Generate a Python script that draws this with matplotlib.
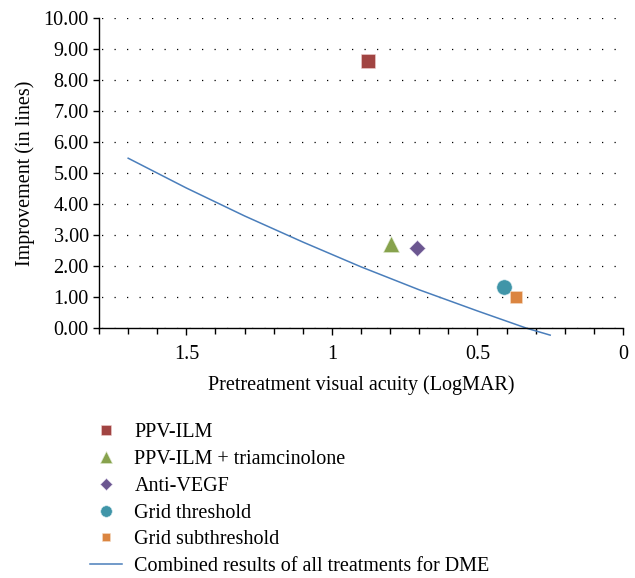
import matplotlib
matplotlib.use('Agg')
import matplotlib.pyplot as plt
from matplotlib.ticker import MultipleLocator, FuncFormatter

plt.rcParams['font.family'] = ['Liberation Serif', 'DejaVu Serif']

# Treatment results (LogMAR, improvement in lines)
ppv_x, ppv_y = [0.877], [8.62]
tri_x, tri_y = [0.796], [2.72]
vegf_x, vegf_y = [0.707], [2.60]
grid_x, grid_y = [0.41], [1.34]
sub_x, sub_y = [0.369], [1.01]

# Combined fit
fit_x = [1.70, 1.50, 1.30, 1.10, 0.90, 0.70, 0.50, 0.33, 0.25]
fit_y = [5.48, 4.52, 3.62, 2.78, 1.98, 1.24, 0.56, 0.00, -0.22]

labels = ['PPV-ILM', 'PPV-ILM + triamcinolone', 'Anti-VEGF',
          'Grid threshold', 'Grid subthreshold',
          'Combined results of all treatments for DME']

FS = 14.5

fig = plt.figure(figsize=(6.35, 5.78), dpi=100)
ax = fig.add_axes([0.156, 0.432, 0.825, 0.537])

ax.plot(ppv_x, ppv_y, marker='s', ms=10.5, color='#A14442', ls='None',
        mec='#f0d0d0', mew=0.4, label=labels[0])
ax.plot(tri_x, tri_y, marker='^', ms=12, color='#87A24D', ls='None',
        mec='#e0ecd0', mew=0.4, label=labels[1])
ax.plot(vegf_x, vegf_y, marker='D', ms=8, color='#6B5690', ls='None',
        mec='#e0d8ec', mew=0.4, label=labels[2])
ax.plot(grid_x, grid_y, marker='o', ms=11, color='#4095A8', ls='None',
        mec='#d0e8ee', mew=0.4, label=labels[3])
ax.plot(sub_x, sub_y, marker='s', ms=8, color='#DB8540', ls='None',
        mec='#f6dcc6', mew=0.4, label=labels[4])
ax.plot(fit_x, fit_y, color='#4A7EBB', lw=1.1, clip_on=False, label=labels[5])

ax.set_xlim(1.8, 0)
ax.set_ylim(0, 10)
ax.xaxis.set_major_locator(MultipleLocator(0.5))
ax.xaxis.set_minor_locator(MultipleLocator(0.1))
ax.yaxis.set_major_locator(MultipleLocator(1))
ax.xaxis.set_major_formatter(FuncFormatter(lambda v, p: '{:g}'.format(round(v, 2))))
ax.yaxis.set_major_formatter(FuncFormatter(lambda v, p: '{:.2f}'.format(v)))

ax.spines['top'].set_visible(False)
ax.spines['right'].set_visible(False)
for s in ('left', 'bottom'):
    ax.spines[s].set_linewidth(1.0)
    ax.spines[s].set_color('black')

ax.tick_params(axis='x', which='major', length=5, width=1, pad=7, labelsize=FS)
ax.tick_params(axis='x', which='minor', length=4, width=1)
ax.tick_params(axis='y', length=4.5, width=1, pad=3, labelsize=FS)

ax.yaxis.grid(True, color='black', lw=0.9, linestyle=(8, (1, 9)))
ax.set_axisbelow(True)

ax.set_xlabel('Pretreatment visual acuity (LogMAR)', fontsize=FS, labelpad=8)
ax.set_ylabel('Improvement (in lines)', fontsize=FS, labelpad=6)

fig.legend(loc='upper left', bbox_to_anchor=(0.126, 0.285), frameon=False,
           fontsize=FS, borderpad=0, labelspacing=0.38, handlelength=1.6,
           handletextpad=0.6, markerscale=0.75, numpoints=1)

fig.savefig('out.png', dpi=100)
